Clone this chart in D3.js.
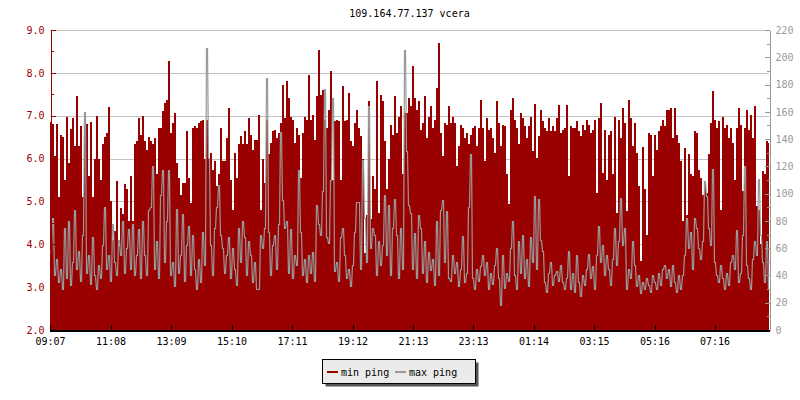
<!DOCTYPE html>
<html>
<head>
<meta charset="utf-8">
<script src="https://cdn.jsdelivr.net/npm/d3@7"></script>
<style>
  body { margin: 0; background: #fff; }
  text { font-family: "DejaVu Sans Mono", monospace; font-size: 10px; }
</style>
</head>
<body>
<svg id="chart" width="800" height="400"></svg>
<script>
// chart values
var chartTitle = '109.164.77.137 vcera';
var sampleMinutes = 4;
var tickMinutes = [0, 121, 242, 363, 484, 605, 726, 846, 967, 1088, 1209, 1329];
var tickLabels = ['09:07', '11:08', '13:09', '15:10', '17:11', '19:12', '21:13', '23:13', '01:14', '03:15', '05:16', '07:16'];
var leftTicks = [2, 3, 4, 5, 6, 7, 8, 9];
var rightTicks = [0, 20, 40, 60, 80, 100, 120, 140, 160, 180, 200, 220];
var seriesNames = ['min ping', 'max ping'];
var seriesColors = ['#990000', '#999999'];

// min ping (left axis), one value per 4 minutes
var minPing = [
  6.86, 6.8, 6.05, 6.8, 5.1, 6.55, 6.5, 5.5, 6.97, 5.9,
  6.7, 6.95, 6.3, 7.45, 6.3, 6.75, 5.1, 7.0, 6.8, 5.6,
  6.85, 5.1, 6.0, 7.0, 6.0, 5.5, 6.35, 6.5, 6.6, 7.2,
  5.0, 4.1, 4.3, 5.47, 3.95, 4.85, 4.7, 5.4, 5.3, 4.55,
  5.6, 4.55, 6.35, 6.4, 6.95, 6.55, 7.0, 6.4, 6.2, 6.5,
  6.4, 6.35, 6.48, 5.63, 6.71, 6.71, 7.1, 7.3, 7.37, 8.27,
  6.6, 6.83, 7.06, 5.9, 5.55, 5.16, 5.43, 5.43, 6.64, 5.55,
  4.96, 6.71, 6.75, 6.71, 6.83, 6.87, 6.91, 6.0, 6.91, 6.0,
  6.13, 5.74, 5.94, 5.35, 5.63, 6.71, 5.94, 5.94, 6.48, 7.18,
  5.51, 4.81, 6.13, 5.55, 6.33, 6.52, 6.33, 6.64, 6.33, 6.95,
  6.56, 6.21, 6.44, 6.44, 7.02, 4.8, 6.0, 5.43, 6.91, 6.1,
  6.36, 6.64, 6.67, 6.48, 6.6, 6.83, 7.72, 6.95, 7.8, 7.41,
  6.98, 6.91, 6.36, 6.71, 6.56, 5.55, 6.6, 6.98, 6.91, 7.96,
  6.91, 7.02, 6.44, 7.45, 8.54, 7.49, 7.6, 6.91, 6.71, 7.14,
  8.04, 5.51, 6.87, 6.91, 6.87, 5.51, 7.69, 6.87, 6.91, 7.53,
  6.4, 6.29, 6.83, 7.14, 6.71, 6.52, 5.98, 3.8, 4.69, 7.34,
  4.58, 5.59, 5.28, 7.8, 4.73, 7.49, 7.34, 6.4, 5.28, 5.98,
  6.79, 6.56, 7.45, 6.6, 6.98, 7.22, 5.63, 7.06, 7.06, 7.41,
  7.22, 8.15, 7.41, 7.14, 7.34, 6.67, 6.83, 7.45, 6.48, 6.98,
  7.22, 6.71, 6.91, 7.65, 8.7, 6.6, 6.05, 6.83, 6.79, 7.22,
  6.83, 6.98, 6.83, 5.82, 6.29, 6.79, 6.71, 6.48, 6.6, 6.33,
  6.56, 6.71, 6.75, 6.29, 6.71, 7.37, 6.71, 5.94, 6.95, 6.67,
  6.71, 6.48, 6.13, 7.34, 6.83, 6.29, 6.79, 6.75, 5.63, 4.93,
  7.14, 7.41, 6.91, 6.71, 6.33, 7.06, 6.95, 6.75, 6.48, 6.75,
  6.98, 6.17, 7.27, 6.02, 6.52, 7.14, 6.87, 6.71, 6.64, 6.95,
  6.64, 6.75, 6.64, 6.95, 7.26, 6.6, 6.67, 6.71, 7.26, 5.6,
  6.75, 6.71, 6.71, 6.87, 6.64, 6.52, 6.79, 6.67, 6.91, 6.79,
  6.6, 6.67, 6.91, 5.2, 6.95, 7.3, 5.66, 6.67, 5.51, 6.56,
  6.64, 5.63, 6.98, 4.73, 6.91, 6.48, 7.18, 6.83, 4.77, 7.37,
  6.95, 6.29, 6.83, 6.13, 5.35, 3.6, 6.28, 5.28, 4.22, 6.6,
  6.56, 5.59, 6.56, 6.21, 6.64, 6.75, 6.91, 6.75, 7.14, 7.14,
  7.18, 6.48, 7.18, 6.56, 6.36, 5.94, 4.54, 6.25, 4.69, 6.1,
  5.63, 5.59, 6.64, 6.6, 5.74, 5.55, 5.16, 5.43, 5.2, 6.1,
  6.83, 7.57, 6.91, 6.71, 6.87, 4.81, 6.98, 6.71, 6.79, 6.48,
  6.71, 6.36, 5.51, 6.71, 7.18, 6.79, 5.24, 6.71, 7.14, 6.67,
  7.02, 6.48, 7.22, 4.89, 4.81, 4.0, 5.7, 5.63, 6.4, 6.36
];

// max ping (right axis), one value per 4 minutes
var maxPing = [
  57, 82, 40, 52, 35, 45, 30, 75, 38, 80,
  33, 50, 88, 45, 58, 36, 70, 160, 42, 55,
  34, 68, 40, 30, 48, 38, 62, 90, 45, 55,
  36, 78, 50, 40, 66, 55, 80, 42, 60, 74,
  45, 78, 40, 55, 74, 38, 80, 55, 40, 88,
  90, 120, 45, 65, 38, 99, 117, 50, 80, 117,
  40, 50, 32, 89, 42, 55, 85, 36, 62, 76,
  40, 70, 45, 30, 52, 35, 72, 48, 207, 126,
  62, 40, 75, 90, 106, 70, 60, 42, 55, 68,
  38, 60, 45, 33, 75, 50, 80, 68, 40, 65,
  55, 35, 50, 30, 30, 70, 60, 75, 185, 72,
  40, 62, 70, 45, 78, 145, 95, 75, 80, 42,
  74, 38, 55, 48, 117, 72, 40, 52, 35, 55,
  42, 57, 36, 92, 78, 70, 102, 177, 68, 64,
  110, 170, 43, 50, 36, 68, 75, 55, 38, 45,
  32, 48, 72, 94, 94, 45, 125, 82, 50, 164,
  60, 75, 70, 40, 65, 48, 62, 99, 55, 92,
  40, 75, 96, 70, 38, 75, 45, 205, 131, 92,
  86, 45, 71, 38, 84, 75, 42, 65, 35, 57,
  44, 52, 33, 80, 40, 88, 95, 50, 87, 38,
  36, 55, 42, 50, 32, 45, 69, 35, 42, 90,
  129, 38, 30, 45, 36, 47, 55, 40, 50, 30,
  42, 34, 48, 60, 38, 18, 55, 31, 42, 36,
  60, 80, 40, 30, 65, 42, 70, 38, 52, 32,
  68, 50, 98, 45, 96, 66, 58, 35, 28, 42,
  50, 33, 40, 43, 36, 48, 35, 30, 38, 58,
  30, 42, 28, 55, 35, 25, 40, 33, 45, 56,
  38, 47, 30, 55, 76, 50, 62, 40, 55, 45,
  33, 52, 75, 48, 65, 97, 62, 75, 30, 45,
  38, 65, 48, 32, 40, 27, 35, 30, 38, 33,
  28, 40, 35, 30, 42, 33, 45, 48, 38, 45,
  32, 48, 35, 28, 40, 30, 40, 55, 82, 60,
  72, 45, 82, 75, 60, 52, 65, 109, 98, 75,
  62, 118, 50, 40, 35, 48, 38, 30, 42, 33,
  50, 55, 45, 73, 35, 42, 70, 120, 48, 38,
  30, 52, 65, 55, 111, 70, 50, 35, 65, 30
];

(function() {
    // general setup
    var svg = d3.select('#chart'),
    left = 50, right = 769, top = 30, bottom = 330,
    x = d3.scaleLinear().domain([0, 1440]).range([left, left + 720]),
    yLeft = d3.scaleLinear().domain([2, 9]).range([bottom, top]),
    yRight = d3.scaleLinear().domain([0, 220]).range([bottom, top]),
    plot,
    axis,
    maxPoints;

    // title
    svg.append('text')
	.attr('x', 409.5)
	.attr('y', 17)
	.attr('text-anchor', 'middle')
	.attr('fill', '#000')
	.text(chartTitle);

    // horizontal grid behind the bars
    svg.append('g').classed('grid', true)
	.selectAll('line')
	.data(leftTicks.filter(function(d) { return d > 2; }))
	.join('line')
	.attr('x1', left)
	.attr('x2', right)
	.attr('y1', function(d) { return Math.round(yLeft(d)) + 0.5; })
	.attr('y2', function(d) { return Math.round(yLeft(d)) + 0.5; })
	.attr('stroke', '#c0c0c0')
	.attr('shape-rendering', 'crispEdges');

    svg.append('clipPath').attr('id', 'plot-clip')
	.append('rect')
	.attr('x', left).attr('y', 0)
	.attr('width', right - left).attr('height', bottom);

    plot = svg.append('g').attr('clip-path', 'url(#plot-clip)');

    // min ping as filled bars
    plot.append('g').classed('min-ping', true)
	.selectAll('rect')
	.data(minPing)
	.join('rect')
	.attr('x', function(d, i) { return x(i * sampleMinutes); })
	.attr('width', function(d, i) { return x((i + 1) * sampleMinutes) - x(i * sampleMinutes); })
	.attr('y', function(d) { return yLeft(d); })
	.attr('height', function(d) { return bottom - yLeft(d); })
	.attr('fill', seriesColors[0])
	.attr('shape-rendering', 'crispEdges');

    // max ping: each sample holds its level for half the interval, then jumps to the next one
    maxPoints = [];
    maxPing.forEach(function(d, i) {
	maxPoints.push([i * sampleMinutes, d]);
	maxPoints.push([i * sampleMinutes + sampleMinutes / 2, d]);
    });
    plot.append('path')
	.datum(maxPoints)
	.attr('d', d3.line()
	      .x(function(d) { return x(d[0]) + 0.5; })
	      .y(function(d) { return Math.round(yRight(d[1])) + 0.5; }))
	.attr('fill', 'none')
	.attr('stroke', seriesColors[1])
	.attr('stroke-width', 1.2);

    // left axis, ticks pointing inside
    axis = svg.append('g').attr('transform', 'translate(' + (left + 0.5) + ',0)');
    axis.call(d3.axisLeft(yLeft).tickValues(leftTicks).tickSize(-5).tickSizeOuter(0)
	      .tickPadding(6).tickFormat(d3.format('.1f')));
    axis.append('g').call(d3.axisLeft(yLeft).tickValues(d3.range(2.5, 9, 1))
			  .tickSize(-3).tickSizeOuter(0).tickFormat(''));
    axis.selectAll('path, line').attr('stroke', seriesColors[0]).attr('shape-rendering', 'crispEdges');
    axis.selectAll('text').attr('fill', seriesColors[0]).style('font-size', '10px')
	.style('font-family', '"DejaVu Sans Mono", monospace');

    // right axis
    axis = svg.append('g').attr('transform', 'translate(' + (right + 0.5) + ',0)');
    axis.call(d3.axisRight(yRight).tickValues(rightTicks).tickSize(-5).tickSizeOuter(0).tickPadding(6));
    axis.append('g').call(d3.axisRight(yRight).tickValues(d3.range(10, 220, 20))
			  .tickSize(-3).tickSizeOuter(0).tickFormat(''));
    axis.selectAll('path, line').attr('stroke', '#999999').attr('shape-rendering', 'crispEdges');
    axis.selectAll('text').attr('fill', '#999999').style('font-size', '10px')
	.style('font-family', '"DejaVu Sans Mono", monospace');

    // time axis
    axis = svg.append('g').attr('transform', 'translate(0,' + (bottom + 1) + ')');
    axis.call(d3.axisBottom(x).tickValues(tickMinutes).tickSize(-6).tickSizeOuter(0).tickPadding(7)
	      .tickFormat(function(d, i) { return tickLabels[i]; }));
    axis.select('path.domain').attr('d', 'M' + left + ',0H' + (right + 1)).attr('stroke-width', 2);
    axis.selectAll('path, line').attr('stroke', '#000').attr('shape-rendering', 'crispEdges');
    axis.selectAll('text').attr('fill', '#000').style('font-size', '10px')
	.style('font-family', '"DejaVu Sans Mono", monospace');

    // legend with drop shadow
    var legend = svg.append('g').classed('legend', true).attr('transform', 'translate(322,359)');
    legend.append('rect').attr('x', 3.5).attr('y', 3.5).attr('width', 153).attr('height', 24).attr('fill', '#555');
    legend.append('rect').attr('x', 0.5).attr('y', 0.5).attr('width', 153).attr('height', 24)
	.attr('fill', '#ebebeb').attr('stroke', '#000');
    var item = legend.selectAll('g.item')
	.data(seriesNames)
	.join('g').classed('item', true)
	.attr('transform', function(d, i) { return 'translate(' + (5 + i * 68) + ',0)'; });
    item.append('line')
	.attr('x1', 0).attr('x2', 11).attr('y1', 13).attr('y2', 13)
	.attr('stroke', function(d, i) { return seriesColors[i]; })
	.attr('stroke-width', 2);
    item.append('text')
	.attr('x', 14).attr('y', 17)
	.attr('fill', '#000')
	.text(function(d) { return d; });
}).call(this);
</script>
</body>
</html>
